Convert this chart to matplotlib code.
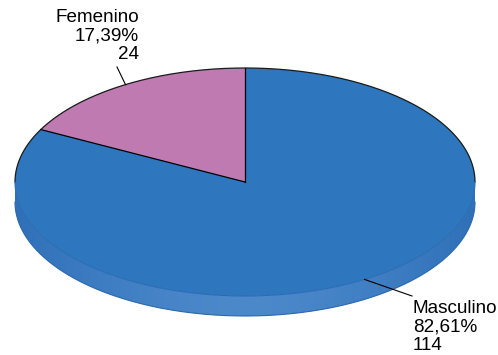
import numpy as np
import matplotlib
matplotlib.use("Agg")
import matplotlib.pyplot as plt
from matplotlib.patches import Polygon
from matplotlib.colors import to_rgb

# data
labels = ["Femenino", "Masculino"]
counts = [24, 114]
colors = ["#c07ab2", "#2e77be"]
side_edge = "#2f70b8"
side_mid = "#4c89cb"

# ellipse geometry (pixel units)
cx, cy = 245, 182
a, b = 230, 114
depth = 20

total = sum(counts)
fracs = [c / total for c in counts]


def rim(t0, t1, n=200, dy=0):
    t = np.radians(np.linspace(t0, t1, n))
    return np.column_stack([cx + a * np.cos(t), cy + dy - b * np.sin(t)])


fig = plt.figure(figsize=(4.98, 3.55), dpi=100)
ax = fig.add_axes([0, 0, 1, 1])
ax.set_xlim(0, 498)
ax.set_ylim(355, 0)
ax.axis("off")

# side of the disc (front half) with a soft horizontal gradient
upper = rim(180, 360)
lower = rim(360, 180, dy=depth)
side = Polygon(np.vstack([upper, lower]), closed=True, facecolor="none", edgecolor="none")
ax.add_patch(side)
xs = np.linspace(-1, 1, 300)
w = np.clip(1 - np.abs(xs) ** 1.5, 0, 1)[None, :, None]
grad = np.array(to_rgb(side_edge)) * (1 - w) + np.array(to_rgb(side_mid)) * w
img = ax.imshow(grad, extent=(cx - a, cx + a, cy + b + depth, cy - b - 5), aspect="auto", zorder=1)
img.set_clip_path(side)
ax.plot(lower[:, 0], lower[:, 1], color="#2a68ad", lw=0.8, zorder=2)

# top face wedges, starting at 12 o'clock, counter-clockwise
start = 90.0
mids = []
for frac, col in zip(fracs, colors):
    end = start + frac * 360
    pts = np.vstack([[cx, cy], rim(start, end)])
    ax.add_patch(Polygon(pts, closed=True, facecolor=col, edgecolor="none", zorder=3))
    r = rim(start, start, n=1)[0]
    ax.plot([cx, r[0]], [cy, r[1]], color="black", lw=0.9, zorder=4)
    mids.append((start + end) / 2)
    start = end

# outline of the back half of the top face
back = rim(0, 180)
ax.plot(back[:, 0], back[:, 1], color="#1a1a1a", lw=0.9, zorder=4)
front = rim(180, 360)
ax.plot(front[:, 0], front[:, 1], color="#2a6cb3", lw=0.8, zorder=4)

# labels with leader lines
label_pos = [(139, 9, "right", (117, 67)), (413, 300, "left", (412, 296))]
for lab, c, frac, mid, (tx, ty, ha, tip) in zip(labels, counts, fracs, mids, label_pos):
    p = rim(mid, mid, n=1)[0]
    ax.plot([p[0], tip[0]], [p[1], tip[1]], color="black", lw=0.8, zorder=5)
    txt = "%s\n%s%%\n%d" % (lab, ("%.2f" % (frac * 100)).replace(".", ","), c)
    ax.text(tx, ty, txt, ha=ha, va="top", multialignment=ha, fontsize=13.6,
            family="Liberation Sans", linespacing=1.12, color="black", zorder=6)

fig.savefig("out.png", dpi=100)
